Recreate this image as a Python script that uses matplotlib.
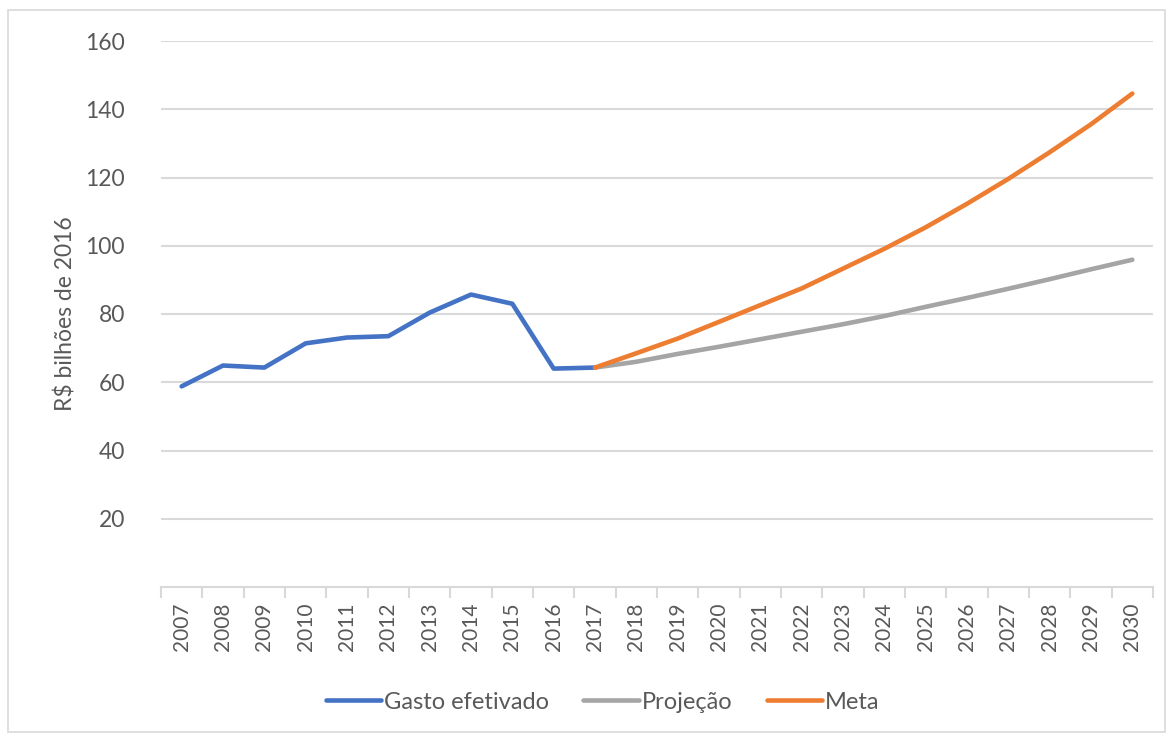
import numpy as np
import matplotlib.pyplot as plt
from matplotlib.patches import Rectangle

years = [str(y) for y in range(2007, 2031)]

# R$ bilhões de 2016
gasto = [58.8, 64.9, 64.3, 71.4, 73.1, 73.5, 80.4, 85.7, 83.0, 64.0, 64.3]
projecao = [64.3, 66.0, 68.3, 70.4, 72.6, 74.8, 77.0, 79.4, 82.1, 84.7, 87.4, 90.2, 93.1, 95.9]
meta = [64.3, 68.5, 72.8, 77.7, 82.6, 87.5, 93.3, 99.1, 105.4, 112.3, 119.6, 127.4, 135.6, 144.6]

plt.rcParams['font.family'] = ['Lato', 'DejaVu Sans']
txt = '#595959'
grid = '#d9d9d9'

fig = plt.figure(figsize=(11.7, 7.34), dpi=100)
fig.patches.append(Rectangle((8/1170, 0.003), 1 - 8/1170 - 0.004, 1 - 10/734 - 0.003,
                             transform=fig.transFigure, fill=False, edgecolor=grid, lw=1.2))
ax = fig.add_axes([161/1170, 1 - 587/734, (1153 - 161)/1170, (587 - 41)/734])

x = np.arange(len(years))
ax.plot(x[:len(gasto)], gasto, color='#4472C4', lw=3.3, solid_capstyle='round', solid_joinstyle='round', label='Gasto efetivado', zorder=3)
ax.plot(x[10:10 + len(projecao)], projecao, color='#A5A5A5', lw=3.3, solid_capstyle='round', solid_joinstyle='round', label='Projeção', zorder=3)
ax.plot(x[10:10 + len(meta)], meta, color='#ED7D31', lw=3.3, solid_capstyle='round', solid_joinstyle='round', label='Meta', zorder=4)

ax.set_xlim(-0.5, len(years) - 0.5)
ax.set_ylim(0, 160)
ax.set_yticks(range(20, 161, 20))
ax.yaxis.grid(True, color=grid, lw=1.5)
ax.set_axisbelow(True)
ax.tick_params(axis='y', length=0, labelsize=16.5, labelcolor=txt, pad=26)

ax.set_xticks(x)
ax.set_xticklabels(years, rotation=90)
ax.set_xticks(np.arange(-0.5, len(years)), minor=True)
ax.tick_params(axis='x', which='major', length=0, labelsize=15, labelcolor=txt, pad=11)
ax.tick_params(axis='x', which='minor', length=8, width=1.5, color=grid)

for s in ['left', 'right', 'top']:
    ax.spines[s].set_visible(False)
ax.spines['bottom'].set_color(grid)
ax.spines['bottom'].set_linewidth(1.5)

ax.set_ylabel('R$ bilhões de 2016', fontsize=16.5, color=txt, labelpad=6)

fig.legend(loc='lower center', bbox_to_anchor=(0.515, 0.0), ncol=3, frameon=False,
           fontsize=17, labelcolor=txt, handlelength=2.35, handletextpad=0.12, columnspacing=1.45)

fig.savefig('out.png', dpi=100)
